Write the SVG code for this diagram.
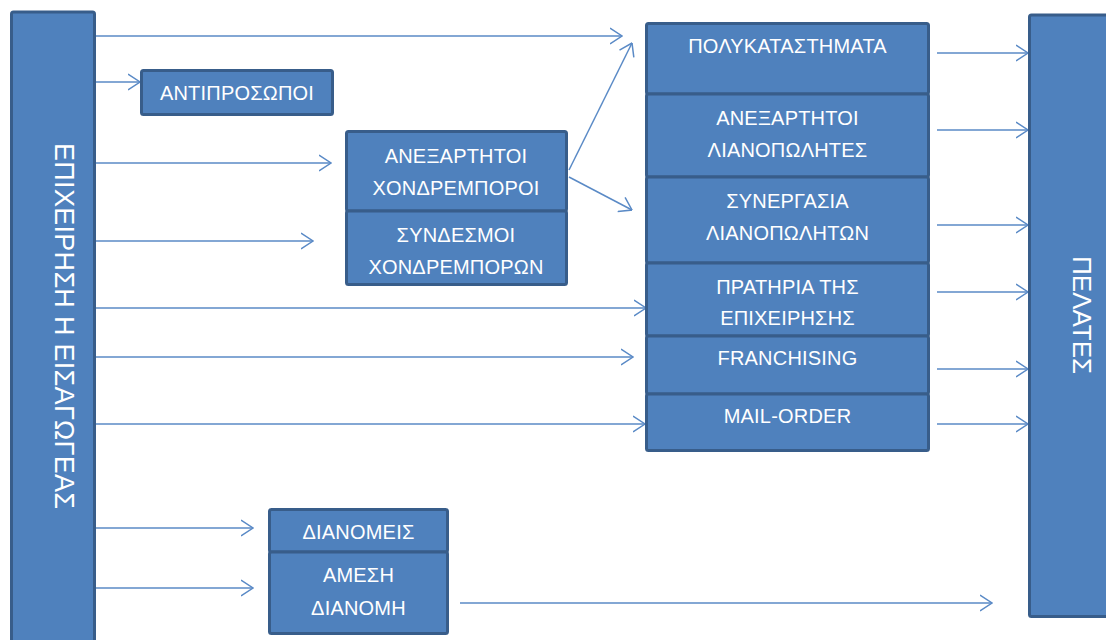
<svg xmlns="http://www.w3.org/2000/svg" width="1106" height="640" viewBox="0 0 1106 640">
<style>
.box{fill:#4f81bd;stroke:#385d8a;stroke-width:3;}
.lbl{fill:#ffffff;font-family:"Liberation Sans","DejaVu Sans",sans-serif;font-size:20px;letter-spacing:0.2px;text-anchor:middle;}
.big{fill:#ffffff;font-family:"Liberation Sans","DejaVu Sans",sans-serif;text-anchor:middle;}
.con{stroke:#5a8ac6;stroke-width:1.5;fill:none;marker-end:url(#arr);}
</style>
<defs>
<marker id="arr" markerUnits="userSpaceOnUse" viewBox="0 0 13 18" refX="12.5" refY="9" markerWidth="13" markerHeight="18" orient="auto">
<path d="M0.5,1 L12.5,9 L0.5,17" fill="none" stroke="#5a8ac6" stroke-width="1.5"/>
</marker>
</defs>
<rect width="1106" height="640" fill="#ffffff"/>

<g id="connectors">
<line class="con" x1="96" y1="36" x2="622" y2="36"/>
<line class="con" x1="96" y1="82" x2="140" y2="82"/>
<line class="con" x1="96" y1="163" x2="331" y2="163"/>
<line class="con" x1="96" y1="241" x2="313" y2="241"/>
<line class="con" x1="96" y1="308" x2="646" y2="308"/>
<line class="con" x1="96" y1="357" x2="633" y2="357"/>
<line class="con" x1="96" y1="424" x2="645" y2="424"/>
<line class="con" x1="96" y1="528" x2="253" y2="528"/>
<line class="con" x1="96" y1="588" x2="253" y2="588"/>
<line class="con" x1="569" y1="170" x2="632" y2="43"/>
<line class="con" x1="569" y1="177" x2="632" y2="210"/>
<line class="con" x1="460" y1="603" x2="992" y2="603"/>
<line class="con" x1="937" y1="53" x2="1028" y2="53"/>
<line class="con" x1="937" y1="130" x2="1028" y2="130"/>
<line class="con" x1="937" y1="225" x2="1028" y2="225"/>
<line class="con" x1="937" y1="292" x2="1028" y2="292"/>
<line class="con" x1="937" y1="369" x2="1028" y2="369"/>
<line class="con" x1="937" y1="424" x2="1028" y2="424"/>
</g>

<g id="epixeirisi">
<rect class="box" x="11.5" y="12" width="83" height="640" rx="2"/>
<text class="big" font-size="27" textLength="366" lengthAdjust="spacing" transform="translate(55,326) rotate(90)">ΕΠΙΧΕΙΡΗΣΗ Η ΕΙΣΑΓΩΓΕΑΣ</text>
</g>

<g id="pelates">
<rect class="box" x="1029.5" y="15" width="90" height="601.5" rx="2"/>
<text class="big" font-size="26" transform="translate(1073,315) rotate(90)">ΠΕΛΑΤΕΣ</text>
</g>

<g id="antiprosopoi">
<rect class="box" x="141.5" y="70.5" width="191" height="44" rx="2"/>
<text class="lbl" x="237" y="100">ΑΝΤΙΠΡΟΣΩΠΟΙ</text>
</g>

<g id="xondremporoi">
<rect class="box" x="346.5" y="131.5" width="220" height="79.5" rx="2"/>
<text class="lbl" x="456" y="163">ΑΝΕΞΑΡΤΗΤΟΙ</text>
<text class="lbl" x="456" y="195">ΧΟΝΔΡΕΜΠΟΡΟΙ</text>
</g>
<g id="syndesmoi">
<rect class="box" x="346.5" y="211" width="220" height="73.5" rx="2"/>
<text class="lbl" x="456" y="242">ΣΥΝΔΕΣΜΟΙ</text>
<text class="lbl" x="456" y="274">ΧΟΝΔΡΕΜΠΟΡΩΝ</text>
</g>

<g id="polykatastimata">
<rect class="box" x="646.5" y="23.5" width="282" height="70.5" rx="2"/>
<text class="lbl" x="787.5" y="53">ΠΟΛΥΚΑΤΑΣΤΗΜΑΤΑ</text>
</g>
<g id="lianopolites">
<rect class="box" x="646.5" y="94" width="282" height="83" rx="2"/>
<text class="lbl" x="787.5" y="125">ΑΝΕΞΑΡΤΗΤΟΙ</text>
<text class="lbl" x="787.5" y="157">ΛΙΑΝΟΠΩΛΗΤΕΣ</text>
</g>
<g id="synergasia">
<rect class="box" x="646.5" y="177" width="282" height="86" rx="2"/>
<text class="lbl" x="787.5" y="208">ΣΥΝΕΡΓΑΣΙΑ</text>
<text class="lbl" x="787.5" y="240">ΛΙΑΝΟΠΩΛΗΤΩΝ</text>
</g>
<g id="pratiria">
<rect class="box" x="646.5" y="263" width="282" height="73" rx="2"/>
<text class="lbl" x="787.5" y="294">ΠΡΑΤΗΡΙΑ ΤΗΣ</text>
<text class="lbl" x="787.5" y="325">ΕΠΙΧΕΙΡΗΣΗΣ</text>
</g>
<g id="franchising">
<rect class="box" x="646.5" y="336" width="282" height="58" rx="2"/>
<text class="lbl" x="787.5" y="365">FRANCHISING</text>
</g>
<g id="mailorder">
<rect class="box" x="646.5" y="394" width="282" height="56.5" rx="2"/>
<text class="lbl" x="787.5" y="423">MAIL-ORDER</text>
</g>

<g id="dianomeis">
<rect class="box" x="269.5" y="509.5" width="178" height="42.5" rx="2"/>
<text class="lbl" x="358.5" y="539">ΔΙΑΝΟΜΕΙΣ</text>
</g>
<g id="amesi">
<rect class="box" x="269.5" y="552" width="178" height="81.5" rx="2"/>
<text class="lbl" x="358.5" y="582">ΑΜΕΣΗ</text>
<text class="lbl" x="358.5" y="615">ΔΙΑΝΟΜΗ</text>
</g>
</svg>
